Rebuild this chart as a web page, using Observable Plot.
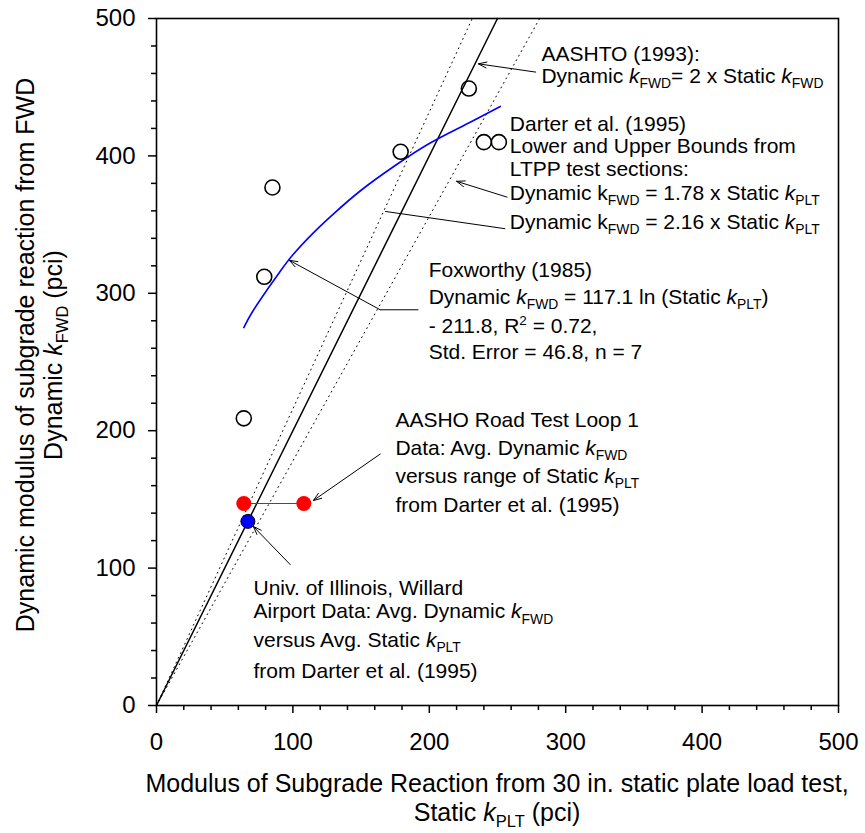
<!DOCTYPE html>
<html><head><meta charset="utf-8">
<script src="https://cdn.jsdelivr.net/npm/d3@7"></script>
<script src="https://cdn.jsdelivr.net/npm/@observablehq/plot@0.6"></script>
<style>
body{margin:0;background:#fff}
svg{font-family:"Liberation Sans", Arial, sans-serif}
</style>
</head><body><div id="chart"></div>
<script>
// ---- data ----
const foxStatic   = [64, 79, 85, 179, 229, 240, 251];
const foxDynamic  = [209, 312, 377, 403, 449, 410, 410];
const fitStatic   = [64, 70, 80, 90, 100, 115, 130, 150, 175, 200, 225, 252];
const fitDynamic  = [275, 286, 301, 315, 328, 344, 358, 375, 393, 409, 422, 436];
const aashoStatic = [64, 108];
const aashoDynamic = [147, 147];
const illinoisStatic = [67];
const illinoisDynamic = [134];
const aashtoLineStatic = [0, 250];      // Dynamic = 2 x Static
const aashtoLineDynamic = [0, 500];
const lowerLineStatic = [0, 280.9];     // Dynamic = 1.78 x Static
const lowerLineDynamic = [0, 500];
const upperLineStatic = [0, 231.5];     // Dynamic = 2.16 x Static
const upperLineDynamic = [0, 500];
const xTicks = [0, 100, 200, 300, 400, 500];
const yTicks = [0, 100, 200, 300, 400, 500];
const minorTicks = [20,40,60,80,120,140,160,180,220,240,260,280,320,340,360,380,420,440,460,480];

// annotation leaders (data units)
const arrowX1 = [278, 257, 164, 164, 98];
const arrowY1 = [461, 370, 288, 183, 102.6];
const arrowX2 = [236, 220, 97.4, 115, 71];
const arrowY2 = [467, 381.5, 324, 149.2, 130.3];
const linkX1 = [255.7, 192];
const linkY1 = [347, 288];
const linkX2 = [167.6, 164];
const linkY2 = [359.6, 288];

// annotation texts: * = italic, _{} = subscript, ^{} = superscript
const noteText = [
  "AASHTO (1993):",
  "Dynamic *k*_{FWD}= 2 x Static *k*_{FWD}",
  "Darter et al. (1995)",
  "Lower and Upper Bounds from",
  "LTPP test sections:",
  "Dynamic k_{FWD} = 1.78 x Static *k*_{PLT}",
  "Dynamic k_{FWD} = 2.16 x Static *k*_{PLT}",
  "Foxworthy (1985)",
  "Dynamic *k*_{FWD} = 117.1 ln (Static *k*_{PLT})",
  "- 211.8, R^{2} = 0.72,",
  "Std. Error = 46.8, n = 7",
  "AASHO Road Test Loop 1",
  "Data: Avg. Dynamic *k*_{FWD}",
  "versus range of Static *k*_{PLT}",
  "from Darter et al. (1995)",
  "Univ. of Illinois, Willard",
  "Airport Data: Avg. Dynamic *k*_{FWD}",
  "versus Avg. Static *k*_{PLT}",
  "from Darter et al. (1995)"
];
const noteX = [282.6, 282.6, 259.4, 259.4, 259.4, 259.4, 259.4, 199.9, 199.9, 199.9, 199.9,
               175.5, 175.5, 175.5, 175.5, 71.5, 71.5, 71.5, 71.5];
const noteY = [468.9, 452.7, 417.8, 401.5, 385, 367.5, 346.4, 311.7, 292.1, 270.5, 251.6,
               202.3, 182, 161.4, 140.2, 80.1, 63.1, 42.4, 19.9];

const xLabel = ["Modulus of Subgrade Reaction from 30 in. static plate load test,", "Static *k*_{PLT} (pci)"];
const yLabel = ["Dynamic modulus of subgrade reaction from FWD", "Dynamic *k*_{FWD} (pci)"];

// ---- build tables ----
const pts = (xs, ys) => xs.map((x, i) => ({x, y: ys[i]}));
const fox = pts(foxStatic, foxDynamic);
const fit = pts(fitStatic, fitDynamic);
const aasho = pts(aashoStatic, aashoDynamic);
const illinois = pts(illinoisStatic, illinoisDynamic);
const arrows = arrowX1.map((x1, i) => ({x1, y1: arrowY1[i], x2: arrowX2[i], y2: arrowY2[i]}));
const links = linkX1.map((x1, i) => ({x1, y1: linkY1[i], x2: linkX2[i], y2: linkY2[i]}));

const chart = Plot.plot({
  width: 865, height: 833,
  marginLeft: 156, marginRight: 27, marginTop: 18, marginBottom: 128,
  x: {domain: [0, 500]},
  y: {domain: [0, 500]},
  style: {background: "white", color: "black", fontFamily: '"Liberation Sans", Arial, sans-serif'},
  marks: [
    Plot.line(pts(upperLineStatic, upperLineDynamic), {x: "x", y: "y", stroke: "black", strokeWidth: 1, strokeDasharray: "1,4.2"}),
    Plot.line(pts(lowerLineStatic, lowerLineDynamic), {x: "x", y: "y", stroke: "black", strokeWidth: 1, strokeDasharray: "1,4.2"}),
    Plot.line(pts(aashtoLineStatic, aashtoLineDynamic), {x: "x", y: "y", stroke: "black", strokeWidth: 1.5}),
    Plot.line(fit, {x: "x", y: "y", stroke: "#0000ff", strokeWidth: 1.6, curve: "natural"}),
    Plot.dot(fox, {x: "x", y: "y", r: 7.5, stroke: "black", strokeWidth: 1.6, fill: "none"}),
    Plot.line(aasho, {x: "x", y: "y", stroke: "red", strokeWidth: 1.2}),
    Plot.dot(aasho, {x: "x", y: "y", r: 7.5, fill: "red", stroke: "none"}),
    Plot.dot(illinois, {x: "x", y: "y", r: 7, fill: "#0000ff", stroke: "black", strokeWidth: 1}),
    Plot.arrow(arrows, {x1: "x1", y1: "y1", x2: "x2", y2: "y2", stroke: "black", strokeWidth: 1, headLength: 13, headAngle: 40}),
    Plot.link(links, {x1: "x1", y1: "y1", x2: "x2", y2: "y2", stroke: "black", strokeWidth: 1}),
    Plot.axisX(minorTicks, {tickSize: 5, text: null, label: null, strokeWidth: 1.5}),
    Plot.axisY(minorTicks, {tickSize: 5, text: null, label: null, strokeWidth: 1.5}),
    Plot.axisX(xTicks, {tickSize: 8, tickPadding: 19, fontSize: 24, label: null, strokeWidth: 1.5}),
    Plot.axisY(yTicks, {tickSize: 8, tickPadding: 13, fontSize: 24, label: null, strokeWidth: 1.5}),
    Plot.frame({stroke: "black", strokeWidth: 1.6})
  ]
});

// ---- rich text helper ----
function appendRich(sel, markup, size) {
  const parts = markup.split(/(\*[^*]+\*|_\{[^}]*\}|\^\{[^}]*\})/).filter(s => s);
  let shift = 0;
  for (const p of parts) {
    const t = sel.append("tspan");
    let content = p, target = 0;
    if (p.startsWith("*")) { content = p.slice(1, -1); t.attr("font-style", "italic"); }
    else if (p.startsWith("_{")) { content = p.slice(2, -1); target = 0.25 * size; t.attr("font-size", 0.66 * size); }
    else if (p.startsWith("^{")) { content = p.slice(2, -1); target = -0.42 * size; t.attr("font-size", 0.64 * size); }
    if (target - shift !== 0) t.attr("dy", target - shift);
    shift = target;
    t.text(content);
  }
}

const svg = d3.select(chart);
const sx = chart.scale("x"), sy = chart.scale("y");
const g = svg.append("g").attr("fill", "black").attr("font-size", 21).attr("text-anchor", "start");
noteText.forEach((s, i) => {
  const t = g.append("text").attr("x", sx.apply(noteX[i])).attr("y", sy.apply(noteY[i]));
  appendRich(t, s, 21);
});

const cx = (sx.apply(0) + sx.apply(500)) / 2;
const gl = svg.append("g").attr("fill", "black").attr("font-size", 25).attr("text-anchor", "middle");
[792, 821].forEach((yy, i) => {
  const t = gl.append("text").attr("x", cx).attr("y", yy);
  appendRich(t, xLabel[i], 25);
});
const cy = 355;
[33.5, 62].forEach((xx, i) => {
  const t = gl.append("text").attr("transform", `translate(${xx},${cy}) rotate(-90)`);
  appendRich(t, yLabel[i], 25);
});

document.getElementById("chart").appendChild(chart);
</script>
</body></html>
